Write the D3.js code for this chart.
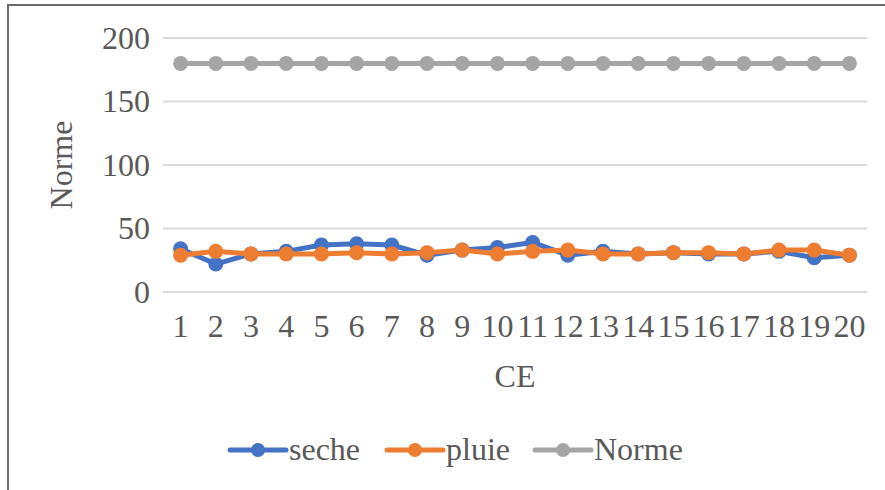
<!DOCTYPE html>
<html>
<head>
<meta charset="utf-8">
<script src="https://cdn.jsdelivr.net/npm/d3@7"></script>
<style>
  body { margin: 0; background: #fff; }
  text { font-family: "Liberation Serif", "Times New Roman", serif; fill: #595959; }
</style>
</head>
<body>
<div class="chart"></div>
<script>
// data
var categories = ["1","2","3","4","5","6","7","8","9","10","11","12","13","14","15","16","17","18","19","20"];
var seche = [34, 22, 30, 32, 37, 38, 37, 29, 33, 35, 39, 29, 32, 30, 31, 30, 30, 32, 27, 29];
var pluie = [29, 32, 30, 30, 30, 31, 30, 31, 33, 30, 32, 33, 30, 30, 31, 31, 30, 33, 33, 29];
var norme = [180, 180, 180, 180, 180, 180, 180, 180, 180, 180, 180, 180, 180, 180, 180, 180, 180, 180, 180, 180];
var yTicks = [0, 50, 100, 150, 200];
var seriesNames = ["seche", "pluie", "Norme"];
var colors = ["#4472C4", "#ED7D31", "#A5A5A5"];

var svgWidth = 885;
var svgHeight = 490;

var svg = d3.select(".chart")
  .append("svg")
  .attr("width", svgWidth)
  .attr("height", svgHeight);

// outer frame (runs off the right and bottom edges)
svg.append("rect")
  .attr("x", 8)
  .attr("y", 5)
  .attr("width", 900)
  .attr("height", 500)
  .attr("fill", "none")
  .attr("stroke", "#6b6b6b")
  .attr("stroke-width", 2);

var plot = { left: 163, right: 867, top: 38, bottom: 292 };

var x = d3.scaleBand()
  .domain(categories)
  .range([plot.left, plot.right]);

var y = d3.scaleLinear()
  .domain([0, 200])
  .range([plot.bottom, plot.top]);

// gridlines
svg.append("g")
  .selectAll("line")
  .data(yTicks)
  .enter()
  .append("line")
  .attr("x1", plot.left)
  .attr("x2", plot.right)
  .attr("y1", d => y(d))
  .attr("y2", d => y(d))
  .attr("stroke", "#d9d9d9")
  .attr("stroke-width", 2);

// y axis labels
var leftAxis = d3.axisLeft(y).tickValues(yTicks).tickSize(0).tickPadding(13);
var yAxis = svg.append("g")
  .attr("transform", `translate(${plot.left}, 0)`)
  .call(leftAxis);
yAxis.select(".domain").remove();
yAxis.selectAll("text")
  .attr("font-size", "32px")
  .attr("fill", "#595959");

// x axis labels
var bottomAxis = d3.axisBottom(x).tickSize(0).tickPadding(22);
var xAxis = svg.append("g")
  .attr("transform", `translate(0, ${plot.bottom})`)
  .call(bottomAxis);
xAxis.select(".domain").remove();
xAxis.selectAll("text")
  .attr("font-size", "32px")
  .attr("fill", "#595959");

// axis titles
svg.append("text")
  .attr("transform", `translate(72, 165) rotate(-90)`)
  .attr("text-anchor", "middle")
  .attr("font-size", "32px")
  .text("Norme");

svg.append("text")
  .attr("x", (plot.left + plot.right) / 2)
  .attr("y", 387)
  .attr("text-anchor", "middle")
  .attr("font-size", "32px")
  .text("CE");

// lines + markers
var allSeries = [seche, pluie, norme];
var line = d3.line()
  .x((d, i) => x(categories[i]) + x.bandwidth() / 2)
  .y(d => y(d));

allSeries.forEach(function (values, s) {
  var g = svg.append("g");
  g.append("path")
    .datum(values)
    .attr("d", line)
    .attr("fill", "none")
    .attr("stroke", colors[s])
    .attr("stroke-width", 5)
    .attr("stroke-linejoin", "round")
    .attr("stroke-linecap", "round");
  g.selectAll("circle")
    .data(values)
    .enter()
    .append("circle")
    .attr("cx", (d, i) => x(categories[i]) + x.bandwidth() / 2)
    .attr("cy", d => y(d))
    .attr("r", 7.5)
    .attr("fill", colors[s]);
});

// legend
var legendX = [230, 387, 535];
var legend = svg.append("g")
  .selectAll("g")
  .data(seriesNames)
  .enter()
  .append("g")
  .attr("transform", (d, i) => `translate(${legendX[i]}, 450)`);

legend.append("line")
  .attr("x1", 0)
  .attr("x2", 56)
  .attr("stroke", (d, i) => colors[i])
  .attr("stroke-width", 5)
  .attr("stroke-linecap", "round");

legend.append("circle")
  .attr("cx", 28)
  .attr("r", 7)
  .attr("fill", (d, i) => colors[i]);

legend.append("text")
  .attr("x", 59)
  .attr("y", 10)
  .attr("font-size", "32px")
  .text(d => d);
</script>
</body>
</html>
